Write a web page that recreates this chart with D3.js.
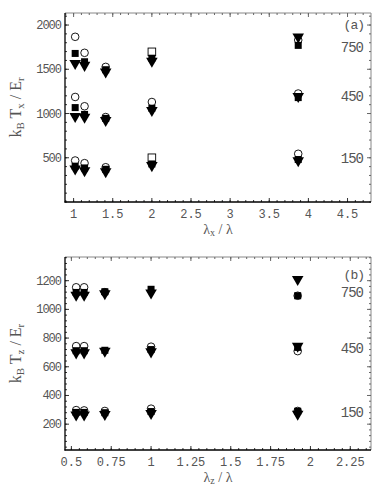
<!DOCTYPE html>
<html>
<head>
<meta charset="utf-8">
<script src="https://cdn.jsdelivr.net/npm/d3@7"></script>
<style>
  body { margin: 0; background: #fff; }
  svg text { fill: #555; }
</style>
</head>
<body>
<div id="chart"></div>
<script>
// panel (a): lambda_x / lambda
const xA = [1.02, 1.14, 1.41, 2.0, 3.87];
// each group: 750, 450, 150 ; values per x position, null = not shown
const openCircleA = [[1867, 1686, 1527, null, 1830], [1187, 1082, 960, 1130, 1226], [469, 439, 393, null, 545]];
const openSquareA = [[null, null, null, 1697, null], [null, null, null, null, null], [null, null, null, 500, null]];
const filledSquareA = [[1679, 1585, 1495, 1625, 1770], [1067, 990, 945, 1060, 1180], [405, 385, 370, 430, 480]];
const triangleA = [[1566, 1546, 1470, 1592, 1867], [968, 960, 923, 1036, 1195], [375, 356, 345, 413, 469]];

// panel (b): lambda_z / lambda
const xB = [0.53, 0.58, 0.71, 1.0, 1.92];
const openCircleB = [[1154, 1154, 1120, null, 1095], [744, 744, null, 740, 709], [298, 296, 292, 308, 292]];
const openSquareB = [[null, null, null, null, null], [null, null, null, null, null], [null, null, null, null, null]];
const filledSquareB = [[1118, 1118, 1123, 1140, 1095], [712, 712, 715, 720, 735], [282, 282, 280, 288, 290]];
const triangleB = [[1100, 1100, 1110, 1115, 1210], [698, 698, 710, 705, 744], [265, 265, 268, 275, 270]];

const groupLabels = ["750", "450", "150"];
const ticksXA = [1, 1.5, 2, 2.5, 3, 3.5, 4, 4.5];
const ticksYA = [500, 1000, 1500, 2000];
const ticksXB = [0.5, 0.75, 1, 1.25, 1.5, 1.75, 2, 2.25];
const ticksYB = [200, 400, 600, 800, 1000, 1200];

const W = 383, H = 497;
const svg = d3.select("#chart").append("svg")
  .attr("width", W).attr("height", H);

function panel(cfg) {
  const x = d3.scaleLinear().domain(cfg.xDom).range([65, 371]);
  const y = d3.scaleLinear().domain(cfg.yDom).range([cfg.bottom, cfg.top]);
  const g = svg.append("g");

  // frame: top & right thin gray
  g.append("line").attr("x1", 65).attr("x2", 371).attr("y1", cfg.top).attr("y2", cfg.top)
    .attr("stroke", "#888").attr("stroke-width", 1);
  g.append("line").attr("x1", 371).attr("x2", 371).attr("y1", cfg.top).attr("y2", cfg.bottom)
    .attr("stroke", "#888").attr("stroke-width", 1);

  const minorX = d3.range(Math.ceil(cfg.xDom[0] / cfg.xMinor), Math.floor(cfg.xDom[1] / cfg.xMinor) + 1).map(i => +(i * cfg.xMinor).toFixed(3));
  const minorY = d3.range(Math.ceil(cfg.yDom[0] / cfg.yMinor), Math.floor(cfg.yDom[1] / cfg.yMinor) + 1).map(i => i * cfg.yMinor);

  // minor ticks on all sides
  g.selectAll(".mxb").data(minorX).join("line")
    .attr("x1", d => x(d)).attr("x2", d => x(d))
    .attr("y1", cfg.bottom).attr("y2", cfg.bottom - 2).attr("stroke", "#333");
  g.selectAll(".mxt").data(minorX).join("line")
    .attr("x1", d => x(d)).attr("x2", d => x(d))
    .attr("y1", cfg.top).attr("y2", cfg.top + 2).attr("stroke", "#666");
  g.selectAll(".myl").data(minorY).join("line")
    .attr("x1", 65).attr("x2", 67)
    .attr("y1", d => y(d)).attr("y2", d => y(d)).attr("stroke", "#333");
  g.selectAll(".myr").data(minorY).join("line")
    .attr("x1", 371).attr("x2", 369)
    .attr("y1", d => y(d)).attr("y2", d => y(d)).attr("stroke", "#666");

  // major ticks a bit longer
  g.selectAll(".Mxb").data(cfg.ticksX).join("line")
    .attr("x1", d => x(d)).attr("x2", d => x(d))
    .attr("y1", cfg.bottom).attr("y2", cfg.bottom - 4).attr("stroke", "#333");
  g.selectAll(".Mxt").data(cfg.ticksX).join("line")
    .attr("x1", d => x(d)).attr("x2", d => x(d))
    .attr("y1", cfg.top).attr("y2", cfg.top + 4).attr("stroke", "#666");
  g.selectAll(".Myl").data(cfg.ticksY).join("line")
    .attr("x1", 65).attr("x2", 69)
    .attr("y1", d => y(d)).attr("y2", d => y(d)).attr("stroke", "#333");
  g.selectAll(".Myr").data(cfg.ticksY).join("line")
    .attr("x1", 371).attr("x2", 367)
    .attr("y1", d => y(d)).attr("y2", d => y(d)).attr("stroke", "#666");

  // left + bottom axes in black
  g.append("line").attr("x1", 65).attr("x2", 65).attr("y1", cfg.top).attr("y2", cfg.bottom + 0.5)
    .attr("stroke", "#000").attr("stroke-width", 1.3);
  g.append("line").attr("x1", 64.5).attr("x2", 371).attr("y1", cfg.bottom).attr("y2", cfg.bottom)
    .attr("stroke", "#000").attr("stroke-width", 1.3);

  // tick labels
  g.selectAll(".lx").data(cfg.ticksX).join("text")
    .attr("x", d => x(d)).attr("y", cfg.bottom + 16)
    .attr("text-anchor", "middle")
    .style("font", "12px 'Liberation Mono', monospace")
    .text(d => d);
  g.selectAll(".ly").data(cfg.ticksY).join("text")
    .attr("x", 61).attr("y", d => y(d) + 4)
    .attr("text-anchor", "end")
    .style("font", "12px 'Liberation Mono', monospace")
    .style("letter-spacing", "-1px")
    .text(d => d);

  // axis titles
  const xt = g.append("text").attr("x", 218).attr("y", cfg.bottom + 32)
    .attr("text-anchor", "middle").style("font", "14px 'Liberation Serif', serif");
  xt.append("tspan").text("λ");
  xt.append("tspan").attr("dy", 2).style("font-size", "10px").text(cfg.sub);
  xt.append("tspan").attr("dy", -2).text(" / λ");

  const yc = (cfg.top + cfg.bottom) / 2;
  const yt = g.append("text").attr("transform", `translate(21,${yc}) rotate(-90)`)
    .attr("text-anchor", "middle").style("font", "16px 'Liberation Serif', serif");
  yt.append("tspan").text("k");
  yt.append("tspan").attr("dy", 3).style("font-size", "11px").text("B");
  yt.append("tspan").attr("dy", -3).text(" T");
  yt.append("tspan").attr("dy", 3).style("font-size", "11px").text(cfg.sub);
  yt.append("tspan").attr("dy", -3).text(" / E");
  yt.append("tspan").attr("dy", 3).style("font-size", "11px").text("r");

  // panel tag + group labels
  g.append("text").attr("x", 364).attr("y", cfg.tagY)
    .attr("text-anchor", "end").style("font", "13px 'Liberation Mono', monospace")
    .style("letter-spacing", "-1px").text(cfg.tag);
  g.selectAll(".gl").data(groupLabels).join("text")
    .attr("x", 363).attr("y", (d, i) => cfg.groupY[i])
    .attr("text-anchor", "end").style("font", "14px 'Liberation Mono', monospace")
    .style("letter-spacing", "-1px").text(d => d);

  // points
  const pts = (arr) => arr.flatMap(grp => grp.map((v, i) => ({ x: cfg.xs[i], v })).filter(p => p.v != null));

  g.selectAll(".oc").data(pts(cfg.openCircle)).join("circle")
    .attr("cx", d => x(d.x)).attr("cy", d => y(d.v)).attr("r", 3.8)
    .attr("fill", "#fff").attr("stroke", "#000").attr("stroke-width", 0.9);
  g.selectAll(".os").data(pts(cfg.openSquare)).join("rect")
    .attr("x", d => x(d.x) - 3.8).attr("y", d => y(d.v) - 3.8)
    .attr("width", 7.6).attr("height", 7.6)
    .attr("fill", "#fff").attr("stroke", "#000").attr("stroke-width", 0.9);
  g.selectAll(".fs").data(pts(cfg.filledSquare)).join("rect")
    .attr("x", d => x(d.x) - 3.5).attr("y", d => y(d.v) - 3.5)
    .attr("width", 7).attr("height", 7).attr("fill", "#000");
  const tri = d3.symbol().type(d3.symbolTriangle).size(58);
  g.selectAll(".tr").data(pts(cfg.triangle)).join("path")
    .attr("d", tri)
    .attr("transform", d => `translate(${x(d.x)},${y(d.v)}) rotate(180)`)
    .attr("fill", "#000");
}

panel({
  xDom: [0.89, 4.8], yDom: [0, 2136], top: 13, bottom: 202,
  xMinor: 0.1, yMinor: 100, ticksX: ticksXA, ticksY: ticksYA,
  sub: "x", tag: "(a)", tagY: 29, groupY: [52, 101, 163],
  xs: xA, openCircle: openCircleA, openSquare: openSquareA,
  filledSquare: filledSquareA, triangle: triangleA
});

panel({
  xDom: [0.46, 2.38], yDom: [20, 1365], top: 257, bottom: 450,
  xMinor: 0.05, yMinor: 40, ticksX: ticksXB, ticksY: ticksYB,
  sub: "z", tag: "(b)", tagY: 279, groupY: [297, 353, 417],
  xs: xB, openCircle: openCircleB, openSquare: openSquareB,
  filledSquare: filledSquareB, triangle: triangleB
});
</script>
</body>
</html>
